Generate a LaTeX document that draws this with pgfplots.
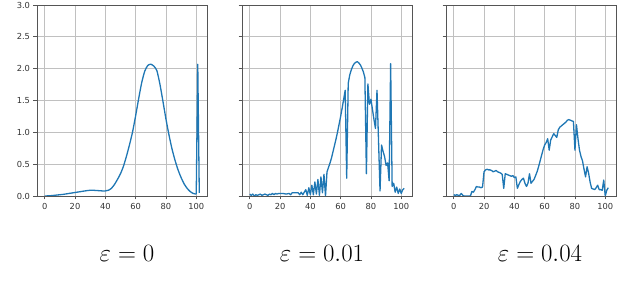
\documentclass[border=0pt]{standalone}
\usepackage{pgfplots}
\pgfplotsset{compat=1.18}
\usepackage{fontspec}
\newfontfamily\dejavu{DejaVu Sans}
\definecolor{mplblue}{HTML}{1F77B4}
\definecolor{gridgray}{HTML}{C0C0C0}
\definecolor{spine}{HTML}{555555}
\pgfplotsset{
  panel/.style={
    scale only axis, width=170pt, height=191pt,
    anchor=south west,
    xmin=-5.1, xmax=107.1, ymin=0, ymax=3,
    xtick={0,20,40,60,80,100},
    ytick={0,0.5,1,1.5,2,2.5,3},
    grid=major,
    major grid style={gridgray, line width=0.8pt},
    axis line style={spine, line width=0.8pt},
    tick style={spine, line width=0.8pt},
    tick align=outside, major tick length=3.5pt,
    xtick pos=bottom, ytick pos=left,
    ticklabel style={font=\dejavu\fontsize{8.3}{9}\selectfont, text=black!80},
    /pgf/number format/assume math mode=true,
    yticklabel style={/pgf/number format/.cd, fixed, fixed zerofill, precision=1},
  },
  mplline/.style={mplblue, line width=1.3pt, line join=round, mark=none},
}
\begin{document}
\begin{tikzpicture}
\path[use as bounding box] (0,0) rectangle (620pt,294pt);
\begin{axis}[panel, at={(37pt,98pt)}]
\addplot[mplline, smooth, tension=0.4] coordinates {
(0,0.0)(4,0.005)(8,0.015)(12,0.025)(16,0.04)(20,0.055)(24,0.07)(28,0.085)(30,0.09)(32,0.09)(35,0.085)(38,0.08)(40,0.08)(42,0.09)(44,0.12)(46,0.18)(48,0.26)(50,0.35)(52,0.47)(54,0.63)(56,0.81)(58,1.01)(60,1.26)(62,1.53)(64,1.78)(66,1.96)(68,2.05)(70,2.07)(72,2.04)(74,1.97)(76,1.76)(78,1.49)(80,1.21)(82,0.96)(84,0.74)(86,0.56)(88,0.41)(90,0.29)(92,0.19)(94,0.12)(96,0.07)(98,0.04)(100,0.03)
};
\addplot[mplline] coordinates {
(100,0.03)(101,2.07)(102,0.05)
};
\end{axis}
\begin{axis}[panel, at={(242pt,98pt)}, yticklabels={}]
\addplot[mplline] coordinates {
(0,0.03)(1,0.01)(2,0.03)(3,0.0)(4,0.02)(5,0.01)(6,0.02)(7,0.03)(8,0.01)(9,0.02)(10,0.03)(11,0.02)(12,0.01)(13,0.03)(14,0.02)(15,0.04)(16,0.02)(17,0.04)(18,0.03)(19,0.04)(20,0.04)(22,0.04)(24,0.03)(26,0.04)(27,0.02)(28,0.05)(30,0.05)(32,0.05)(33,0.02)(34,0.06)(35,0.02)(36,0.06)(37,0.1)(38,0.01)(39,0.13)(40,0.02)(41,0.17)(42,0.02)(43,0.22)(44,0.03)(45,0.26)(46,0.01)(47,0.3)(48,0.05)(49,0.34)(50,0.0)(51,0.38)(52,0.45)(53,0.52)(54,0.6)(55,0.7)(56,0.8)(57,0.9)(58,1.01)(59,1.13)(60,1.25)(61,1.38)(62,1.52)(63,1.66)(64,0.28)(65,1.77)(66,1.9)(67,1.98)(68,2.04)(69,2.08)(70,2.1)(71,2.11)(72,2.09)(73,2.06)(74,2.01)(75,1.95)(76,1.86)(77,0.35)(78,1.76)(79,1.44)(80,1.52)(81,1.36)(82,1.2)(83,1.06)(84,1.66)(85,0.87)(86,0.08)(87,0.8)(88,0.7)(89,0.62)(90,0.48)(91,0.52)(92,0.24)(93,2.08)(94,0.15)(95,0.2)(96,0.06)(97,0.14)(98,0.04)(99,0.11)(100,0.04)(101,0.1)(102,0.12)
};
\end{axis}
\begin{axis}[panel, at={(446pt,98pt)}, yticklabels={}]
\addplot[mplline] coordinates {
(0,0.02)(1,0.01)(2,0.02)(3,0.01)(4,0.01)(5,0.04)(6,0.01)(7,0.0)(8,0.0)(9,0.0)(10,0.0)(11,0.0)(12,0.07)(13,0.06)(14,0.1)(15,0.15)(16,0.14)(17,0.14)(18,0.13)(19,0.14)(20,0.38)(21,0.41)(22,0.42)(23,0.41)(24,0.41)(25,0.4)(26,0.38)(27,0.39)(28,0.4)(29,0.38)(30,0.37)(31,0.36)(32,0.34)(33,0.12)(34,0.35)(35,0.34)(36,0.33)(37,0.32)(38,0.31)(39,0.32)(40,0.29)(41,0.3)(42,0.12)(43,0.18)(44,0.23)(45,0.26)(46,0.28)(47,0.2)(48,0.15)(49,0.2)(50,0.35)(51,0.2)(52,0.23)(53,0.26)(54,0.32)(55,0.38)(56,0.46)(57,0.55)(58,0.64)(59,0.73)(60,0.8)(61,0.84)(62,0.9)(63,0.72)(64,0.88)(65,0.93)(66,0.98)(67,0.95)(68,0.92)(69,1.04)(70,1.08)(71,1.1)(72,1.12)(73,1.14)(74,1.16)(75,1.19)(76,1.2)(77,1.19)(78,1.18)(79,1.17)(80,0.72)(81,1.12)(82,0.9)(83,0.72)(84,0.62)(85,0.55)(86,0.42)(87,0.3)(88,0.46)(89,0.36)(90,0.22)(91,0.12)(92,0.11)(93,0.1)(94,0.13)(95,0.17)(96,0.1)(97,0.1)(98,0.09)(99,0.25)(100,0.0)(101,0.09)(102,0.13)
};
\end{axis}
\node[anchor=base, inner sep=0pt, font=\fontsize{27}{30}\selectfont] at (127pt,32pt) {$\varepsilon = 0$};
\node[anchor=base, inner sep=0pt, font=\fontsize{27}{30}\selectfont] at (322pt,32pt) {$\varepsilon = 0.01$};
\node[anchor=base, inner sep=0pt, font=\fontsize{27}{30}\selectfont] at (540pt,32pt) {$\varepsilon = 0.04$};
\end{tikzpicture}
\end{document}
